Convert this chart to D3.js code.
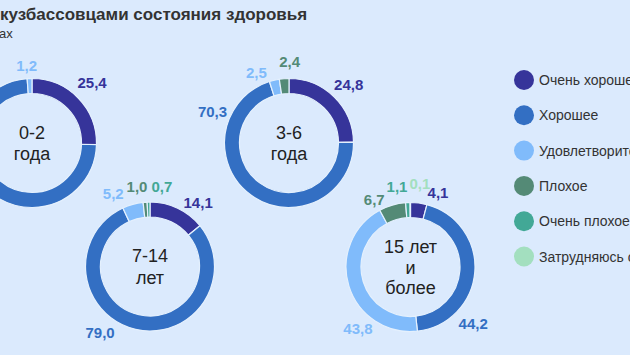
<!DOCTYPE html>
<html><head><meta charset="utf-8">
<script src="https://cdn.jsdelivr.net/npm/d3@7"></script>
<style>
html,body{margin:0;padding:0;background:#dbeafd;overflow:hidden}
svg{display:block}
text{font-family:"Liberation Sans",Arial,sans-serif}
</style></head>
<body>
<svg id="c" width="630" height="355"></svg>
<script>
const categories = ["Очень хорошее","Хорошее","Удовлетворительное","Плохое","Очень плохое","Затрудняюсь ответить"];
const colors = ["#36349a","#336fc3","#80bbfb","#548a76","#42a896","#a3dfbf"];
const groupNames = [["0-2","года"],["3-6","года"],["7-14","лет"],["15 лет","и","более"]];
const values0_2   = [25.4, 73.4, 1.2, 0, 0, 0];
const values3_6   = [24.8, 70.3, 2.5, 2.4, 0, 0];
const values7_14  = [14.1, 79.0, 5.2, 1.0, 0.7, 0];
const values15    = [4.1, 44.2, 43.8, 6.7, 1.1, 0.1];
const allValues = [values0_2, values3_6, values7_14, values15];
// layout: label angle (degrees, clockwise from top) per slice, null = mid angle
const labelAngles = [
  [45, 225, 356, null, null, null],
  [46, 292, 335, 0.5, null, null],
  [37, 217, -27, -9.3, 8.6, null],
  [20.5, 132.5, 220.5, -28.5, -9.6, 6.5]
];
const labelDist = [[85,82,77],[83,82.5,77,81],[80,83,81,80.5,80],[78.5,85,81,76,81,83.5]];
const centers = [[32,143],[289,143],[150,266.5],[410.5,267]];

const svg = d3.select("#c");
svg.append("text").attr("x",0).attr("y",20).attr("font-size",17).attr("font-weight","bold")
  .attr("fill","#333").text("кузбассовцами состояния здоровья");
svg.append("text").attr("x",-1).attr("y",38).attr("font-size",13).attr("fill","#333").text("ах");

const color = d3.scaleOrdinal().domain(categories).range(colors);
const pie = d3.pie().sort(null).value(d=>d.v);
const outerR = 64.5, innerR = 49.5;
const arc = d3.arc().innerRadius(innerR).outerRadius(outerR);
const fmt = v => d3.format(".1f")(v).replace(".", ",");

allValues.forEach((vals, gi) => {
  const data = vals.map((v,i)=>({cat:categories[i], v, i}));
  const g = svg.append("g").attr("transform",`translate(${centers[gi][0]},${centers[gi][1]})`);
  const arcs = pie(data);
  g.selectAll("path").data(arcs.filter(a=>a.data.v>0)).join("path")
    .attr("d",arc).attr("fill",d=>color(d.data.cat))
    .attr("stroke","#e4f0fd").attr("stroke-width",1.2);
  arcs.filter(a=>a.data.v>0).forEach(a=>{
    const i = a.data.i;
    let ang = labelAngles[gi][i];
    if (ang==null) ang = (a.startAngle+a.endAngle)/2*180/Math.PI;
    const r = (labelDist[gi] && labelDist[gi][i]) || 81;
    const rad = ang*Math.PI/180;
    const x = r*Math.sin(rad), y = -r*Math.cos(rad);
    if (centers[gi][0] + x < 0) return; // lies outside the visible frame
    g.append("text").attr("x", x).attr("y", y+5)
      .attr("text-anchor","middle").attr("font-size",15).attr("font-weight","bold")
      .attr("fill", color(a.data.cat)).text(fmt(a.data.v));
  });
  const lines = groupNames[gi];
  const lh = lines.length > 2 ? 20.5 : 21.5;
  lines.forEach((t,li)=>{
    g.append("text").attr("text-anchor","middle")
      .attr("y", (li-(lines.length-1)/2)*lh + 6.5)
      .attr("font-size",18).attr("fill","#222").text(t);
  });
});

const leg = svg.append("g");
categories.forEach((c,i)=>{
  const y = 80 + i*35.3;
  leg.append("circle").attr("cx",524).attr("cy",y).attr("r",10).attr("fill",color(c));
  leg.append("text").attr("x",539).attr("y",y+5).attr("font-size",14).attr("fill","#333").text(c);
});
</script>
</body></html>
